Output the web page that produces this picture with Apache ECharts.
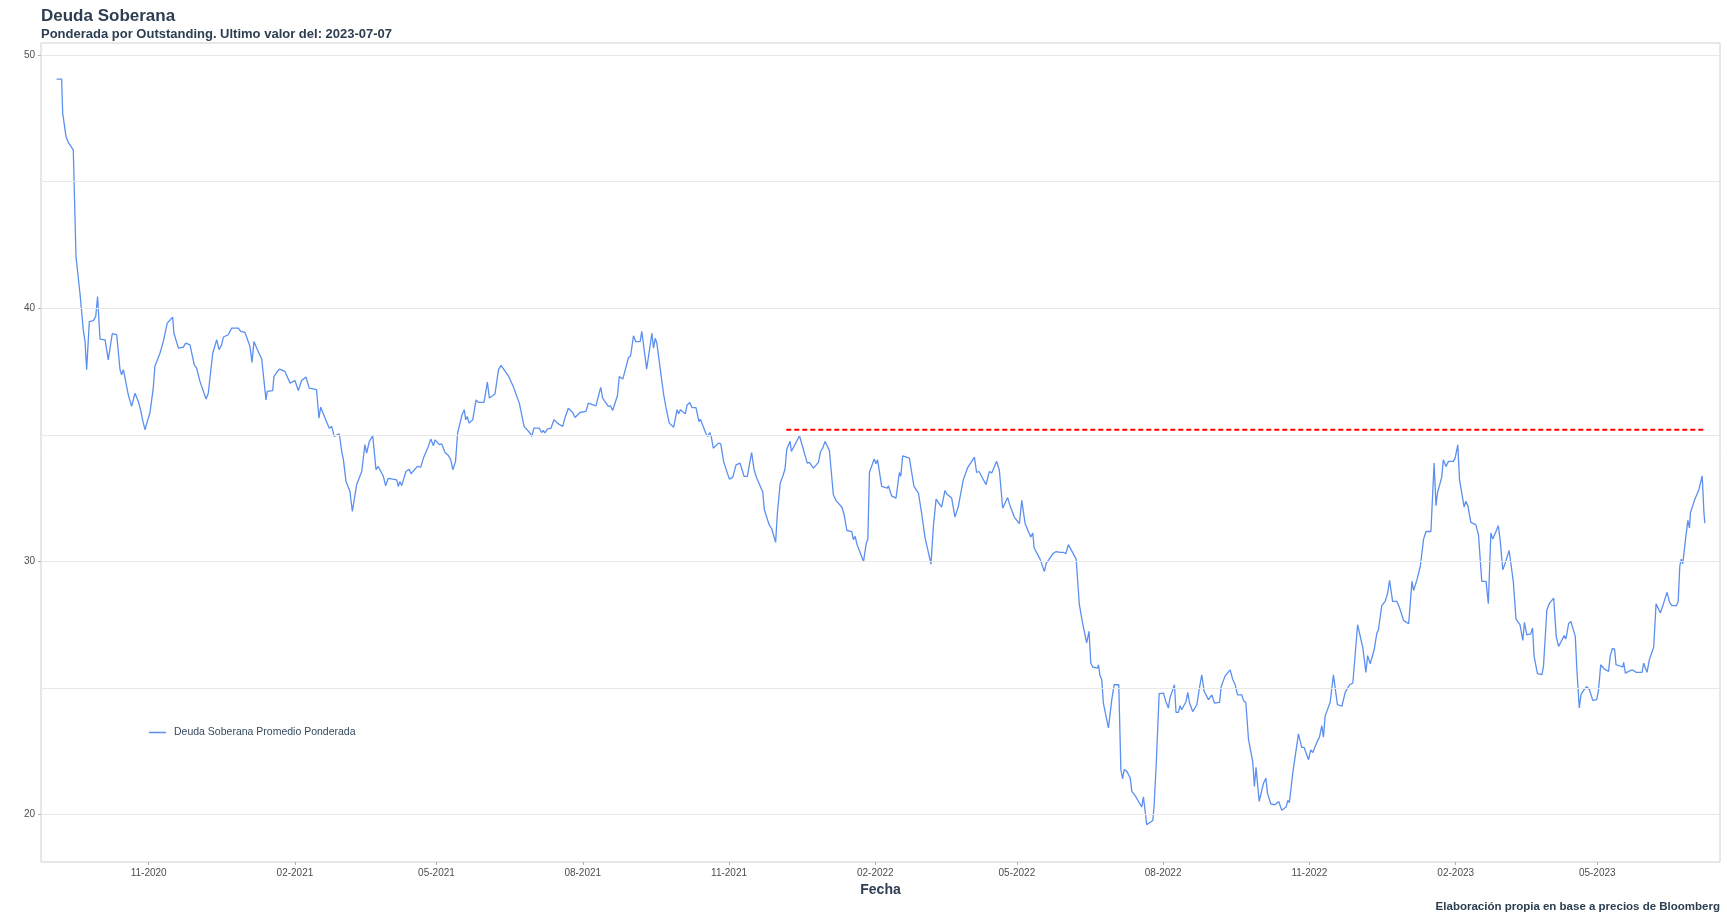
<!DOCTYPE html>
<html>
<head>
<meta charset="utf-8">
<title>Deuda Soberana</title>
<script src="https://cdn.jsdelivr.net/npm/echarts@6/dist/echarts.min.js"></script>
<style>
  html, body { margin: 0; padding: 0; background: #fff; }
  #chart { width: 1727px; height: 918px; }
</style>
</head>
<body>
<div id="chart"></div>
<script>
// fecha base: los dias de cada punto se cuentan desde aqui
var fechaBase = '2020-11-01';

// [dias desde fechaBase, valor]
var tramo2020 = [
  [-57.9,49.04],[-54.7,49.04],[-54.1,47.72],[-53,47.67],[-52,46.78],[-50.5,46.54],[-47.4,46.25],[-45.7,42.04],
  [-43.2,40.59],[-41.1,39.14],[-40,38.68],[-39,37.57],[-37.3,39.47],[-34.8,39.51],[-33.3,39.67],[-32.1,40.46],
  [-30.6,38.78],[-27.4,38.75],[-25.4,37.96],[-24.3,37.96],[-22.9,38.99],[-20.1,38.95],[-18,37.57],[-17,37.37],
  [-15.9,37.57],[-12.8,36.58],[-11.8,36.51],[-10.7,36.12],[-8.6,36.64],[-6.5,36.32],[-5.1,35.99],[-3.8,35.59],
  [-2.3,35.2],[-0.2,35.66],[0.8,35.86],[2.9,36.84],[3.9,37.7],[7.1,38.22],[9.2,38.68],[10.2,38.68],
  [11.7,39.41],[15.1,39.64],[15.9,39.01],[18.7,38.42],[21.8,38.46],[23.3,38.62],[24.3,38.55],[26,38.55],
  [28.7,37.76],[30.2,37.63],[32.3,37.1],[36.1,36.41],[37.5,36.64],[40.3,38.22],[42.8,38.75],[44.3,38.36],
  [45.9,38.55],[47,38.86],[50.1,38.95],[52.2,39.21],[56.4,39.21],[57.9,39.08],[60.6,39.04],[63.7,38.49],
  [65,37.86],[66.2,38.68],[66.9,38.68],[68.4,38.36],[71.1,37.99],[73.8,36.38],[74.6,36.71],[78,36.74],
  [78.8,37.3],[80.5,37.46],[82.2,37.59],[85.7,37.5],[88.9,37.04],[92,37.14],[94.1,36.75],[95.2,36.75],
  [96.2,37.14],[98.9,37.28],[101,36.84],[105.6,36.78],[107.1,35.66],[108.2,36.09]
];

var tramo2021a = [
  [110.9,35.66],[113.6,35.26],[115.1,35.33],[116.7,34.93],[119.9,35.04],[121.4,34.34],[122.5,34.01],[124.1,33.16],
  [126.6,32.76],[128.1,31.97],[129.1,31.93],[130.8,33.03],[134,33.55],[136,34.61],[137.1,34.28],[138.8,34.74],
  [140.9,34.96],[143,33.62],[144.4,33.75],[147.6,33.36],[149,32.99],[150.7,33.28],[156,33.22],[157,32.96],
  [158,33.16],[159.1,32.99],[161.8,33.55],[163.9,33.64],[165,33.46],[169,33.75],[171.1,33.72],[172.8,34.08],
  [175.9,34.54],[177.4,34.83],[179.1,34.57],[180.1,34.8],[182.8,34.61],[184.3,34.64],[186.4,34.3],[188.5,34.18],
  [190,34.01],[191.3,33.62],[193,33.95],[194.3,35.07],[197.1,35.79],[198.5,35.99],[199.4,35.59],[200.4,35.72],
  [201.5,35.46],[203.8,35.59],[205.9,36.38],[207.3,36.28],[210.9,36.28],[213,37.08],[214.3,36.45],[217.8,36.61],
  [220,37.57],[221.6,37.74],[222.6,37.67],[226.2,37.33],[227.2,37.28],[229.3,36.91],[231.4,36.54],[233.1,36.25],
  [234.3,36.22],[236.1,35.33],[239.8,35.07],[240.9,34.93],[242.3,35.26],[245.7,35.26],[247.1,35.09],[248.2,35.17],
  [249.2,35.07],[250.7,35.22],[253,35.26],[254.9,35.59],[256.6,35.49],[258.7,35.39],[260.4,35.33],[261.8,35.66],
  [263.9,36.05],[266.7,35.88],[268.1,35.68],[269.2,35.75],[271.3,35.88],[275,35.92],[276.5,36.25],[281.3,36.14],
  [282.8,36.51],[284.3,36.87],[285.5,36.45]
];

var tramo2021b = [
  [289.1,36.12],[290.5,36.14],[291.8,35.96],[294.8,36.54],[296,37.3],[298.2,37.2],[301.7,38.03],[303.1,38.12],
  [304.9,38.91],[306.3,38.68],[309.1,38.68],[310.1,39.08],[313.2,37.59],[316.5,39.01],[317.5,38.42],[318.6,38.81],
  [319.6,38.62],[321.8,37.56],[323.9,36.58],[325.3,36.09],[326.4,36.09],[327.4,35.46],[330.2,35.3],[332.3,35.99],
  [333.3,35.83],[334.4,35.99],[337.5,35.83],[338.6,36.18],[340.3,36.27],[341.8,36.07],[344.2,36.07],[346.1,35.52],
  [347,35.61],[350.2,35.09],[351.6,34.93],[352.9,35.09],[353.8,34.93],[355.1,34.47],[358.4,34.67],[359.8,34.64],
  [361.6,33.94],[365.2,33.25],[367.3,33.32],[369.4,33.81],[371.9,33.88],[374.4,33.36],[376.5,33.36],[379.2,34.3],
  [380.7,33.64],[382.4,33.29],[383.4,33.22],[386.2,32.74],[387.2,32.04],[388.3,31.97],[390.2,31.45],[391.9,31.28],
  [394.3,30.75],[395.4,31.91],[397.2,33.09],[398.8,33.36],[400.2,33.65],[401.3,34.43],[403.4,34.74],[404.2,34.34],
  [409.3,34.96],[414.2,33.88],[415.5,33.91],[418.1,33.68],[421.2,33.91],[422.6,34.34],[423.9,34.47],[425.4,34.74],
  [428.1,34.38],[430.6,32.63],[432.3,32.4],[436,32.14],[437.4,31.84],[439.1,31.22],[442.2,31.18],[443.2,30.86],
  [444.3,30.99],[445.4,30.69],[446.3,30.65],[449.6,30],[451.3,30.72],[452.3,30.88],[453.3,33.52],[456.3,34.04],
  [457.4,33.86],[458.4,34.01]
];

var tramo2022 = [
  [461,32.96],[464.6,32.89],[465.2,32.99],[467.2,32.59],[470,32.5],[472.1,33.51],[473,33.36],[474.2,34.17],
  [478.4,34.08],[481.3,32.96],[484.1,32.7],[486.1,31.91],[487.2,31.88],[488.2,30.96],[492,29.89],[493.5,31.38],
  [495.2,32.46],[498.7,32.14],[500.8,32.8],[501.9,32.66],[505,32.5],[507.1,31.75],[509.2,32.17],[512.3,33.22],
  [514.9,33.68],[516.1,33.75],[519.3,34.12],[520.7,33.51],[522.2,33.55],[523.3,33.42],[526.6,33.03],[527.5,33.06],
  [528.7,33.55],[530.2,33.49],[533.3,33.95],[535,33.59],[537.1,32.1],[540.2,32.52],[541.7,32.2],[542.7,32.24],
  [544.4,31.75],[547.6,31.49],[549.1,32.41],[551.2,31.49],[554.7,30.96],[556,31.12],[556.9,30.53],[560.6,30.09],
  [563.3,29.6],[564.4,29.91],[565.2,29.87],[568.6,30.3],[569.6,30.26],[570.7,30.39],[573.2,30.36],[575.3,30.36],
  [576.8,30.3],[578.4,30.66],[579.5,30.63],[583.3,30.09],[585.3,28.29],[587.4,27.54],[589.9,26.78],[591.4,27.24],
  [592.5,25.99],[593.7,25.83],[596.7,25.79],[597.3,25.92],[598.3,25.49],[599.4,25.33],[600.4,24.41],[603.6,23.42],
  [605.7,24.54],[607.2,25.13],[610.1,25.13],[611.4,21.78],[612.5,21.41],[613.5,21.78],[615.2,21.71],[617.3,21.45],
  [618.3,20.92],[619.4,20.96],[620.4,20.75],[621.5,20.75],[624.5,20.3],[625.6,20.7],[626.6,20.66],[627.7,19.6],
  [628.9,19.6],[631.5,19.77],[632.3,20.33],[633.6,21.91],[635.5,24.78],[638.2,24.8],[639.7,24.47],[641.3,24.21],
  [642.3,24.61]
];

var tramo2022b = [
  [645.1,25.13],[646.1,24.04],[647.6,24.04],[648.6,24.3],[649.7,24.14],[652.4,24.47],[653.5,24.83],[654.5,24.43],
  [655.4,24.38],[656.6,24.07],[659.2,24.34],[660.8,25],[662.3,25.52],[663.8,24.87],[666.5,24.54],[667.6,24.47],
  [668.6,24.73],[670.3,24.4],[673.5,24.43],[674.5,25.06],[677,25.48],[680.1,25.72],[681.7,25.35],[683.3,25.13],
  [684.8,24.73],[687.5,24.73],[688.5,24.51],[690,24.43],[691.7,22.96],[694.3,22.1],[695.4,21.11],[696.4,21.87],
  [698.4,20.52],[701.1,21.24],[702.6,21.44],[703.6,20.85],[705.7,20.43],[708.3,20.39],[709.4,20.35],[710.7,20.52],
  [711.5,20.52],[712.6,20.17],[715.3,20.3],[716.4,20.56],[717.4,20.48],[719.5,21.64],[723.1,23.19],[725.1,22.66],
  [726.6,22.66],[729.4,22.17],[730.8,22.56],[732.1,22.45],[734.6,22.85],[736.3,23.06],[737.8,23.51],[738.8,23.06],
  [739.9,23.9],[740.9,23.94],[743,24.43],[745.1,25.52],[747.6,24.34],[750.4,24.28],[752.5,24.83],[753.6,24.87],
  [755.3,25.13],[757.3,25.2],[760.3,27.5],[763.6,26.58],[765.5,25.62],[766.6,26.28],[768.2,25.96],[770.7,26.51],
  [772.4,27.17],[773.4,27.3],[775.5,28.25],[777.6,28.42],[779.1,28.72],[780.4,29.25],[782.3,28.42],[785,28.42],
  [786.5,28.2],[787.5,28.16],[789.2,27.67],[792.4,27.54],[794.5,29.21],[795.5,28.85],[797.6,29.27],[799.7,29.8],
  [801.8,30.88],[803.3,31.18],[806.4,31.18]
];

var tramo2023 = [
  [808.4,33.88],[809.6,32.2],[810.5,32.7],[813.2,33.33],[814.2,34.01],[815.9,33.75],[817.4,33.95],[820.5,33.95],
  [821.6,34.08],[823.3,34.6],[824.4,33.22],[825.8,32.7],[827.3,32.14],[828.3,32.37],[829.6,32.2],[831.5,31.54],
  [834.6,31.45],[836.3,31.05],[838.4,29.21],[841.1,29.21],[842.5,28.33],[844.1,31.12],[845.3,30.88],[848.8,31.41],
  [849.9,30.86],[851.6,29.67],[853.1,29.93],[855.6,30.43],[858.2,29.21],[859.9,27.72],[862.4,27.5],[863.1,27.43],
  [864.2,26.88],[865.2,27.59],[866.7,27.1],[869.2,27.14],[870.3,27.37],[871.3,26.25],[873.4,25.57],[876.2,25.53],
  [877.2,25.86],[879.3,28.07],[880.8,28.33],[883.6,28.55],[885.2,27.04],[886.7,26.64],[887.7,26.62],[890.2,27.07],
  [891.3,26.94],[893,27.54],[894.4,27.63],[897.2,27.04],[898.2,25.72],[899.7,24.21],[900.8,24.74],[902.3,24.9],
  [904.4,25.05],[906.1,24.93],[908.2,24.51],[910.7,24.54],[911.8,24.93],[913.2,25.92],[915.4,25.75],[918.1,25.66],
  [919.2,26.28],[920.6,26.57],[921.9,26.54],[922.8,25.92],[925.5,25.86],[927,25.83],[927.6,26.01],[928.7,25.59],
  [930.8,25.66],[932.9,25.72],[935.6,25.62],[939.2,25.62],[940.2,25.98],[941.3,25.79],[942.3,25.62],[943.8,26.12],
  [946.5,26.62],[948,28.33],[949,28.36],[950.7,27.96],[952.8,28.36],[954.9,28.78],[956.6,28.36],[958.1,28.25],
  [960.8,28.25],[961.9,28.42],[962.9,29.8],[963.8,30.09],[964.8,29.91],[966.5,30.86],[968,31.62],[969,31.32],
  [969.6,31.92],[970.7,31.98],[972.2,32.42],[974.9,32.83],[975.9,32.86],[977,33.38],[978.1,31.92],[978.7,31.51]
];

// linea roja punteada (dias desde fechaBase y nivel)
var refDias = [401, 978.7];
var refValor = 35.2;

var ticksX = ['2020-11-01', '2021-02-01', '2021-05-01', '2021-08-01', '2021-11-01', '2022-02-01',
              '2022-05-01', '2022-08-01', '2022-11-01', '2023-02-01', '2023-05-01'];
var ticksY = [20, 30, 40, 50];
var lineasY = [20, 25, 30, 35, 40, 45, 50];

var DIA = 86400000;
var base = Date.parse(fechaBase);
var fuente = '"Liberation Sans", Arial, sans-serif';
var colorTexto = '#2c3e50';

function aFecha(p) { return [base + p[0] * DIA, p[1]]; }

var serie = [].concat(tramo2020, tramo2021a, tramo2021b, tramo2022, tramo2022b, tramo2023).map(aFecha);
var serieRef = refDias.map(function (d) { return [base + d * DIA, refValor]; });
var ticksXms = ticksX.map(function (s) { return Date.parse(s); });

var myChart = echarts.init(document.getElementById('chart'));

var option = {
    animation: false,
    backgroundColor: '#ffffff',
    textStyle: { fontFamily: fuente },
    title: [
        {
            text: 'Deuda Soberana', left: 41, top: 8, padding: 0,
            textStyle: { fontSize: 17, fontWeight: 'bold', color: colorTexto, fontFamily: fuente }
        },
        {
            text: 'Ponderada por Outstanding. Ultimo valor del: 2023-07-07', left: 41, top: 28, padding: 0,
            textStyle: { fontSize: 13, fontWeight: 'bold', color: colorTexto, fontFamily: fuente }
        },
        {
            text: 'Elaboración propia en base a precios de Bloomberg', right: 7, top: 901, padding: 0,
            textStyle: { fontSize: 11.5, fontWeight: 'bold', color: colorTexto, fontFamily: fuente }
        }
    ],
    legend: {
        data: [{ name: 'Deuda Soberana Promedio Ponderada', icon: 'rect' }],
        left: 144, top: 722,
        itemWidth: 17, itemHeight: 1.5,
        textStyle: { fontSize: 10.5, color: '#34495e', fontFamily: fuente, padding: [0, 0, 0, 3] }
    },
    grid: {
        left: 41, right: 7, top: 43, bottom: 56,
        show: true, borderColor: '#d0d0d0', borderWidth: 1
    },
    xAxis: {
        type: 'value',
        min: base - 67.7 * DIA,
        max: base + 988.2 * DIA,
        name: 'Fecha',
        nameLocation: 'middle',
        nameGap: 20,
        nameTextStyle: { fontSize: 14, fontWeight: 'bold', color: colorTexto, fontFamily: fuente },
        axisLine: { show: false },
        splitLine: { show: false },
        axisTick: { show: true, length: 3, lineStyle: { color: '#b0b0b0' }, customValues: ticksXms },
        axisLabel: {
            customValues: ticksXms,
            fontSize: 10, color: '#4d4d4d', margin: 6,
            formatter: function (v) {
                var d = new Date(v);
                var m = d.getUTCMonth() + 1;
                return (m < 10 ? '0' + m : m) + '-' + d.getUTCFullYear();
            }
        }
    },
    yAxis: {
        type: 'value',
        min: 18.13,
        max: 50.47,
        axisLine: { show: false },
        splitLine: { show: false },
        axisTick: { show: true, length: 3, lineStyle: { color: '#b0b0b0' }, customValues: ticksY },
        axisLabel: { customValues: ticksY, fontSize: 10, color: '#4d4d4d', margin: 6 }
    },
    series: [
        {
            name: 'Referencia',
            type: 'line',
            data: serieRef,
            symbol: 'none',
            silent: true,
            z: 1,
            lineStyle: { color: '#ff0000', width: 2, type: [5, 3] },
            markLine: {
                symbol: 'none',
                silent: true,
                label: { show: false },
                lineStyle: { color: '#e8e8e8', width: 1, type: 'solid' },
                data: lineasY.map(function (v) { return { yAxis: v }; })
            }
        },
        {
            name: 'Deuda Soberana Promedio Ponderada',
            type: 'line',
            data: serie,
            symbol: 'none',
            showSymbol: false,
            z: 3,
            itemStyle: { color: '#5b8ff0' },
            lineStyle: { color: '#5b8ff0', width: 1.3 }
        }
    ]
};

option && myChart.setOption(option);
</script>
</body>
</html>
